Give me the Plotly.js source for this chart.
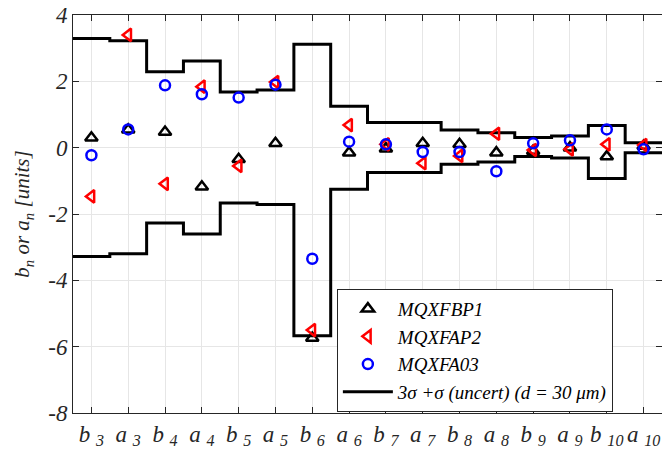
<!DOCTYPE html>
<html>
<head>
<meta charset="utf-8">
<script src="https://cdn.plot.ly/plotly-3.0.1.min.js"></script>
<style>
html,body{margin:0;padding:0;background:#fff;}
#chart{width:662px;height:462px;}
</style>
</head>
<body>
<div id="chart"></div>
<script>
// Harmonic labels (b_n / a_n)
const harmLetters = ["b","a","b","a","b","a","b","a","b","a","b","a","b","a","b","a"];
const harmOrders  = [3,3,4,4,5,5,6,6,7,7,8,8,9,9,10,10];

// Measured harmonics [units]
const mqxfbp1 = [0.30, 0.54, 0.47, -1.18, -0.35, 0.13, -5.74, -0.15, -0.03, 0.13, 0.10, -0.15, -0.10, 0.00, -0.27, 0.05];
const mqxfap2 = [-1.47, 3.40, -1.09, 1.84, -0.55, 1.98, -5.50, 0.68, 0.10, -0.47, -0.25, 0.42, -0.07, -0.05, 0.10, 0.08];
const mqxfa03 = [-0.23, 0.55, 1.88, 1.61, 1.51, 1.90, -3.35, 0.18, 0.10, -0.13, -0.13, -0.71, 0.13, 0.22, 0.55, -0.05];

// 3 sigma + sigma(uncert) envelope
const upperBound = [3.29, 3.22, 2.29, 2.61, 1.68, 1.74, 3.12, 1.25, 0.76, 0.76, 0.53, 0.45, 0.31, 0.35, 0.67, 0.15];
const lowerBound = [-3.28, -3.20, -2.27, -2.60, -1.67, -1.71, -5.67, -1.25, -0.75, -0.75, -0.50, -0.43, -0.27, -0.31, -0.93, -0.15];

const yTickVals = [-8, -6, -4, -2, 0, 2, 4];
const yTickText = ["-8", "-6", "-4", "-2", "0", "2", "4"];

const seriesNames = ["MQXFBP1", "MQXFAP2", "MQXFA03", "3\u03c3 +\u03c3 (uncert) (d = 30 \u03bcm)"];

const xPos = harmOrders.map((_, i) => i + 1);
const xTickText = harmLetters.map((l, i) => l + " <sub>" + harmOrders[i] + "</sub>");

// Step-line x extended half a slot on each side
const stepX = [0.5].concat(xPos, [xPos.length + 0.5]);
const ext = arr => [arr[0]].concat(arr, [arr[arr.length - 1]]);

const fontFam = "Liberation Serif, DejaVu Sans, sans-serif";

const traces = [
  {x: stepX, y: ext(upperBound), type: "scatter", mode: "lines", line: {shape: "hvh", color: "#000", width: 3},
   name: seriesNames[3], legendrank: 4, showlegend: true, hoverinfo: "skip"},
  {x: stepX, y: ext(lowerBound), type: "scatter", mode: "lines", line: {shape: "hvh", color: "#000", width: 3},
   name: seriesNames[3], showlegend: false, hoverinfo: "skip"},
  {x: xPos, y: mqxfbp1, type: "scatter", mode: "markers", name: seriesNames[0], legendrank: 1,
   marker: {symbol: "triangle-up-open", size: 11, color: "#000", line: {width: 2.5, color: "#000"}}},
  {x: xPos, y: mqxfap2, type: "scatter", mode: "markers", name: seriesNames[1], legendrank: 2,
   marker: {symbol: "triangle-left-open", size: 11, color: "#ff0000", line: {width: 2.5, color: "#ff0000"}}},
  {x: xPos, y: mqxfa03, type: "scatter", mode: "markers", name: seriesNames[2], legendrank: 3,
   marker: {symbol: "circle-open", size: 10, color: "#0000ff", line: {width: 2.5, color: "#0000ff"}}}
];

const axisCommon = {
  showline: true, linecolor: "#262626", linewidth: 1, mirror: "ticks",
  ticks: "inside", ticklen: 6, tickwidth: 1, tickcolor: "#262626",
  showgrid: true, gridcolor: "#e6e6e6", gridwidth: 1, zeroline: false,
  tickfont: {family: fontFam, size: 23, color: "#262626", style: "italic"}
};

const layout = {
  width: 662, height: 462,
  margin: {l: 73, r: 0, t: 15, b: 49},
  paper_bgcolor: "#fff", plot_bgcolor: "#fff",
  showlegend: true,
  xaxis: Object.assign({}, axisCommon, {
    range: [0.5, 16.5], tickmode: "array", tickvals: xPos, ticktext: xTickText, tickangle: 0
  }),
  yaxis: Object.assign({}, axisCommon, {
    range: [-8, 4], tickmode: "array", tickvals: yTickVals, ticktext: yTickText,
    title: {text: "b<sub>n</sub> or a<sub>n</sub> [units]", font: {family: fontFam, size: 21, color: "#262626", style: "italic"}, standoff: 12}
  }),
  legend: {
    x: 0.448, y: 0.312, xanchor: "left", yanchor: "top",
    bgcolor: "#fff", bordercolor: "#262626", borderwidth: 1,
    font: {family: fontFam, size: 19, color: "#000", style: "italic"},
    traceorder: "normal", itemwidth: 50, tracegroupgap: 0
  }
};

Plotly.newPlot("chart", traces, layout, {displayModeBar: false, staticPlot: true});
</script>
</body>
</html>
